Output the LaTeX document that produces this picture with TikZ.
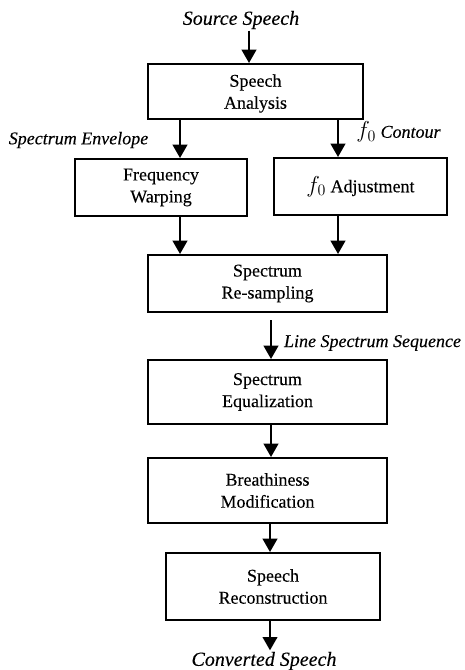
\documentclass[tikz,border=0pt]{standalone}
\usepackage{fontspec}
\setmainfont{Liberation Serif}[UprightFeatures={FakeBold=0.2},ItalicFeatures={FakeBold=0.2}]
\usetikzlibrary{arrows.meta}
\begin{document}
\begin{tikzpicture}[x=0.75pt,y=-0.75pt,
  box/.style={draw,line width=1.5pt,inner sep=0pt,align=center,font=\fontsize{13.5}{16.5}\selectfont},
  arr/.style={line width=1.5pt,-{Triangle[width=11pt,length=10pt]}},
  lbl/.style={font=\fontsize{13.5}{16}\selectfont\itshape,inner sep=0pt},
  big/.style={font=\fontsize{15}{18}\selectfont\itshape,inner sep=1pt}]
\useasboundingbox (0,0) rectangle (464,670);
\node[big] (src) at (241,20) {Source Speech};
\node[box,minimum width=161.25pt,minimum height=41.25pt,text depth=-4.5pt] (sa) at (255.5,91.5) {Speech\\Analysis};
\node[box,minimum width=129pt,minimum height=42.75pt] (fw) at (161,187.5) {Frequency\\Warping};
\node[box,minimum width=129.75pt,minimum height=42.75pt] (fa) at (360.5,186.5) {{\fontsize{18}{18}\selectfont$f_0$} Adjustment};
\node[box,minimum width=179.25pt,minimum height=42.75pt] (rs) at (267.5,283.5) {Spectrum\\Re-sampling};
\node[box,minimum width=179.25pt,minimum height=48pt] (eq) at (267.5,392) {Spectrum\\Equalization};
\node[box,minimum width=179.25pt,minimum height=48.75pt] (br) at (267.5,490.5) {Breathiness\\Modification};
\node[box,minimum width=160.5pt,minimum height=50.25pt] (rc) at (273,586.5) {Speech\\Reconstruction};
\node[big] (cs) at (264,661) {Converted Speech};
\node[lbl] (se) at (78.5,140) {Spectrum Envelope};
\node[lbl] (fc) at (398.5,132) {{\fontsize{17}{17}\selectfont\upshape$f_0$} Contour};
\node[lbl] (ls) at (372.5,343) {Line Spectrum Sequence};
\draw[arr] (src.south -| 249,0) -- (sa.north -| 249,0);
\draw[arr] (sa.south -| 180,0) -- (fw.north -| 180,0);
\draw[arr] (sa.south -| 338,0) -- (fa.north -| 338,0);
\draw[arr] (fw.south -| 180,0) -- (rs.north -| 180,0);
\draw[arr] (fa.south -| 338,0) -- (rs.north -| 338,0);
\draw[arr,shorten <=5.25pt] (rs.south -| 271,0) -- (eq.north -| 271,0);
\draw[arr] (eq.south -| 271,0) -- (br.north -| 271,0);
\draw[arr] (br.south -| 270,0) -- (rc.north -| 270,0);
\draw[arr] (rc.south -| 270,0) -- (cs.north -| 270,0);
\end{tikzpicture}
\end{document}
